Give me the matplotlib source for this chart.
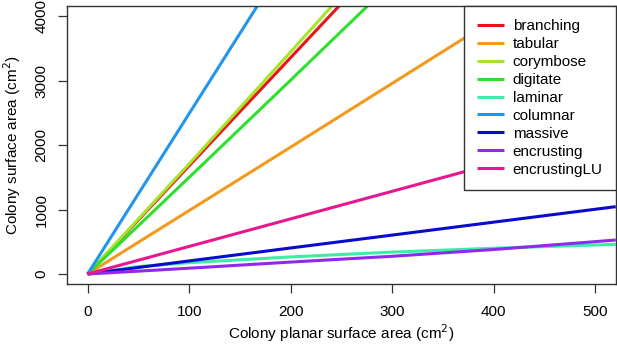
import matplotlib
matplotlib.use("Agg")
import matplotlib.pyplot as plt

plt.rcParams['font.family'] = ['Liberation Sans', 'DejaVu Sans']

x = [0, 50, 100, 200, 300, 400, 520]
labels = ["branching", "tabular", "corymbose", "digitate", "laminar",
          "columnar", "massive", "encrusting", "encrustingLU"]
branching = [0, 840, 1680, 3360, 5040, 6720, 8736]
tabular = [0, 493, 985, 1970, 2960, 3950, 5130]
corymbose = [0, 855, 1710, 3450, 5200, 6950, 9050]
digitate = [0, 750, 1500, 3010, 4530, 6050, 7870]
laminar = [0, 116, 175, 265, 340, 400, 460]
columnar = [0, 1245, 2490, 4980, 7470, 9960, 12950]
massive = [0, 101, 203, 404, 604, 805, 1045]
encrusting = [0, 44, 90, 185, 275, 380, 527]
encrustingLU = [0, 214, 428, 856, 1284, 1712, 2226]
series = [branching, tabular, corymbose, digitate, laminar,
          columnar, massive, encrusting, encrustingLU]
colors = ["#E8161B", "#F39A1E", "#A6E62A", "#2EE02E", "#3FEBA6",
          "#2196F0", "#0A0ACC", "#9028EE", "#E8178F"]

FS = 11
fig = plt.figure(figsize=(6.17, 3.45), dpi=100)
ax = fig.add_axes([67.3/617, 1-284.3/345, (615.7-67.3)/617, (284.3-6)/345])

for ys, c, lab in zip(series, colors, labels):
    ax.plot(x, ys, color=c, lw=2.2, label=lab, solid_capstyle='butt')

ax.set_xlim(-20, 520)
ax.set_ylim(-160, 4160)
ax.set_xticks([0, 100, 200, 300, 400, 500])
ax.set_yticks([0, 1000, 2000, 3000, 4000])
for s in ax.spines.values():
    s.set_color('#333333')
    s.set_linewidth(1.0)
ax.tick_params(direction='out', length=6.5, width=0.9, color='#333333',
               labelsize=FS)
ax.tick_params(axis='x', pad=8.5)
ax.tick_params(axis='y', pad=7)
for t in ax.get_yticklabels():
    t.set_rotation(90)
    t.set_va('center')
ax.set_xlabel("Colony planar surface area (cm$^2$)", fontsize=FS, va='center')
ax.set_ylabel("Colony surface area (cm$^2$)", fontsize=FS, va='center')
ax.xaxis.set_label_coords(0.5, (284.3-333)/278.3)
ax.yaxis.set_label_coords((12-67.3)/548.4, 0.5)

leg = ax.legend(loc='upper right', bbox_to_anchor=(1, 1), borderaxespad=0,
                fancybox=False, edgecolor='#333333', framealpha=1,
                fontsize=FS, handlelength=1.75, handletextpad=0.6,
                labelspacing=0.26, borderpad=0.85)
leg.get_frame().set_linewidth(1.0)

fig.savefig("out.png", dpi=100)
